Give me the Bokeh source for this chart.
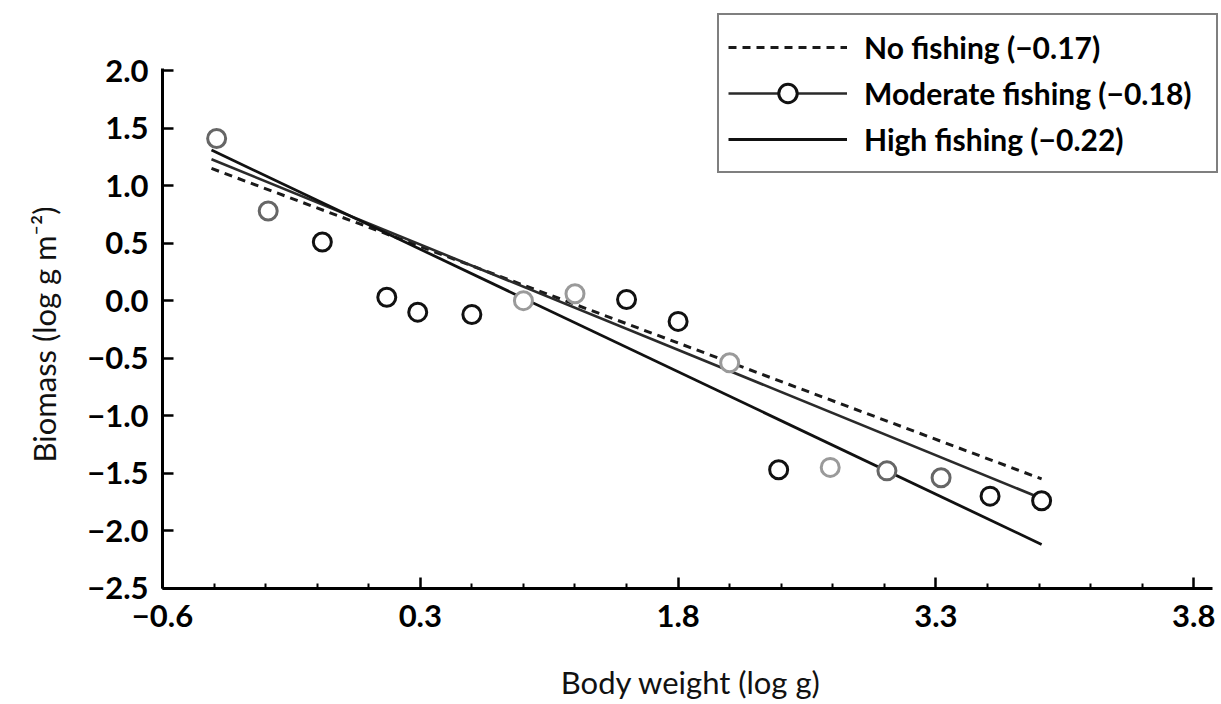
from bokeh.plotting import figure
from bokeh.models import ColumnDataSource, FixedTicker, Legend, LegendItem, Range1d, Title
from bokeh.embed import file_html
from bokeh.resources import INLINE

# ---- data (x in tick-slot units: the printed tick labels are unevenly spaced) ----
x_ticks = [0, 1, 2, 3, 4]
x_tick_labels = ["\u22120.6", "0.3", "1.8", "3.3", "3.8"]
x_minor_ticks = [0.2, 0.4, 0.6, 0.8, 1.2, 1.4, 1.6, 1.8, 2.2, 2.4, 2.6, 2.8, 3.2, 3.4, 3.6, 3.8]
y_ticks = [-2.5, -2.0, -1.5, -1.0, -0.5, 0.0, 0.5, 1.0, 1.5, 2.0]
y_tick_labels = ["\u22122.5", "\u22122.0", "\u22121.5", "\u22121.0", "\u22120.5", "0.0", "0.5", "1.0", "1.5", "2.0"]

body_weight = [0.21, 0.41, 0.62, 0.87, 0.99, 1.20, 1.40, 1.60, 1.80, 2.00, 2.20, 2.39, 2.59, 2.81, 3.02, 3.21, 3.41]
biomass = [1.41, 0.78, 0.51, 0.03, -0.10, -0.12, 0.00, 0.06, 0.01, -0.18, -0.54, -1.47, -1.45, -1.48, -1.54, -1.70, -1.74]
shade = ["mid", "mid", "dark", "dark", "dark", "dark", "light", "light", "dark", "dark",
         "light", "dark", "light", "mid", "mid", "dark", "dark"]

fit_x = [0.19, 3.41]
no_fishing = [1.15, -1.55]
moderate_fishing = [1.23, -1.72]
high_fishing = [1.31, -2.12]

labels = ["No fishing (\u22120.17)", "Moderate fishing (\u22120.18)", "High fishing (\u22120.22)"]
x_title = "Body weight (log g)"
y_title = "Biomass (log g m\u207b\u00b2)"

shade_colors = {"dark": "#111111", "mid": "#666666", "light": "#9a9a9a"}

FONT = "Lato"

p = figure(width=1221, height=704, output_backend="svg", toolbar_location=None,
           x_range=Range1d(0, 4.10), y_range=Range1d(-2.503, 2.567),
           min_border_left=162, min_border_right=2, min_border_top=5, min_border_bottom=116)
p.outline_line_color = None
p.grid.visible = False
p.background_fill_color = "white"
p.border_fill_color = "white"

src_fit = ColumnDataSource(dict(x=fit_x, no=no_fishing, mod=moderate_fishing, high=high_fishing))
r_no = p.line("x", "no", source=src_fit, line_color="#1a1a1a", line_width=3, line_dash="8 6")
r_mod = p.line("x", "mod", source=src_fit, line_color="#2a2a2a", line_width=2.6)
r_high = p.line("x", "high", source=src_fit, line_color="#111111", line_width=2.8)

pt_renderers = {}
for s in ["light", "mid", "dark"]:
    xs = [x for x, sh in zip(body_weight, shade) if sh == s]
    ys = [y for y, sh in zip(biomass, shade) if sh == s]
    src = ColumnDataSource(dict(x=xs, y=ys))
    pt_renderers[s] = p.scatter("x", "y", source=src, marker="circle", size=18,
                                fill_color="white", line_color=shade_colors[s], line_width=3)

# axes
xa = p.xaxis[0]
xa.ticker = FixedTicker(ticks=x_ticks, minor_ticks=x_minor_ticks)
xa.major_label_overrides = {t: l for t, l in zip(x_ticks, x_tick_labels)}
xa.bounds = (0, 4.074)
ya = p.yaxis[0]
ya.ticker = FixedTicker(ticks=y_ticks)
ya.major_label_overrides = {t: l for t, l in zip(y_ticks, y_tick_labels)}
ya.bounds = (-2.503, 2.02)
ya.minor_tick_line_color = None

for ax in (xa, ya):
    ax.axis_line_width = 3
    ax.axis_line_color = "black"
    ax.major_tick_in = 11
    ax.major_tick_out = 0
    ax.major_tick_line_width = 2.5
    ax.major_tick_line_color = "black"
    ax.major_label_text_font = FONT
    ax.major_label_text_font_size = "31px"
    ax.major_label_text_font_style = "bold"
    ax.major_label_text_color = "black"
    ax.axis_label_text_font = FONT
    ax.axis_label_text_font_size = "31px"
    ax.axis_label_text_font_style = "normal"
    ax.axis_label_text_color = "#111111"

xa.major_label_standoff = 16
ya.major_label_standoff = 14
xa.minor_tick_in = 5
xa.minor_tick_out = 0
xa.minor_tick_line_width = 2
xa.minor_tick_line_color = "black"
xa.axis_label = x_title
xa.axis_label_standoff = 33

# y-axis title as a side title (sits a little below the frame centre, as in the original)
p.add_layout(Title(text=y_title, align="left", offset=126, standoff=43,
                   text_font=FONT, text_font_size="31px", text_font_style="normal",
                   text_color="#111111"), "left")

legend = Legend(items=[
    LegendItem(label=labels[0], renderers=[r_no]),
    LegendItem(label=labels[1], renderers=[r_mod, pt_renderers["dark"]]),
    LegendItem(label=labels[2], renderers=[r_high]),
], location=(555, 415), glyph_width=119, glyph_height=46, label_height=46, label_width=343,
    spacing=0, padding=9, margin=0, label_standoff=17,
    border_line_color="black", border_line_width=2.5, background_fill_color="white",
    background_fill_alpha=1.0,
    label_text_font=FONT, label_text_font_size="30px", label_text_font_style="bold",
    label_text_color="black")
p.add_layout(legend, "center")

open("out.html", "w").write(file_html(p, INLINE))
